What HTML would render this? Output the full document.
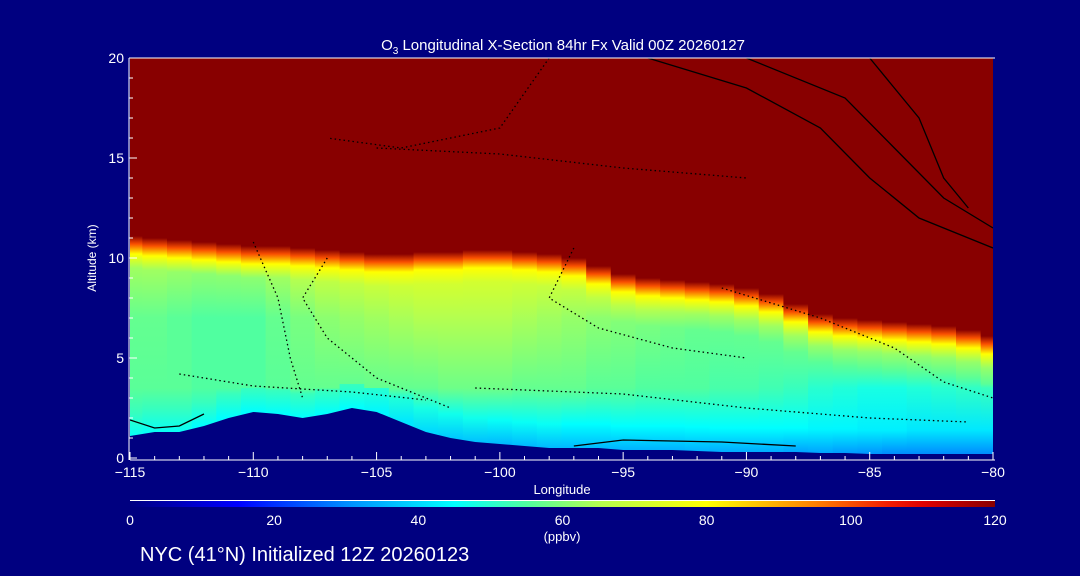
<!DOCTYPE html>
<html><head><meta charset="utf-8"><style>
html,body{margin:0;padding:0;background:#000080;}
svg{display:block;font-family:"Liberation Sans",sans-serif;}
</style></head><body>
<svg id="c" width="1080" height="576" viewBox="0 0 1080 576">
<defs id="defs"><clipPath id="clip"><rect x="130" y="58" width="863" height="400"/></clipPath></defs>
<rect x="0" y="0" width="1080" height="576" fill="#000080"/>
<g id="plot" clip-path="url(#clip)"></g>
<g id="axes"></g>
<text x="563" y="50" fill="#fff" font-size="15" text-anchor="middle">O<tspan font-size="10" dy="4">3</tspan><tspan dy="-4"> Longitudinal X-Section 84hr  Fx Valid 00Z 20260127</tspan></text>
<text x="96" y="258" fill="#fff" font-size="12" text-anchor="middle" transform="rotate(-90 96 258)">Altitude (km)</text>
<text x="562" y="494" fill="#fff" font-size="13" text-anchor="middle">Longitude</text>
<text x="562" y="541" fill="#fff" font-size="13" text-anchor="middle">(ppbv)</text>
<text x="140" y="561" fill="#fff" font-size="20">NYC (41°N) Initialized 12Z 20260123</text>
</svg>
<script>
const lons=[-115,-114,-113,-112,-111,-110,-109,-108,-107,-106,-105,-104,-103,-102,-101,-100,-99,-98,-97,-96,-95,-94,-93,-92,-91,-90,-89,-88,-87,-86,-85,-84,-83,-82,-81,-80];
const terrain=[1.1,1.3,1.3,1.6,2.0,2.3,2.2,2.0,2.2,2.5,2.3,1.8,1.3,1.0,0.8,0.7,0.6,0.5,0.5,0.5,0.4,0.4,0.4,0.35,0.3,0.3,0.3,0.3,0.25,0.25,0.2,0.2,0.2,0.2,0.2,0.2];
const tropo=[11.1,11.0,10.9,10.8,10.7,10.6,10.6,10.5,10.4,10.3,10.2,10.2,10.3,10.3,10.4,10.4,10.3,10.2,10.0,9.6,9.2,9.0,8.9,8.8,8.7,8.5,8.2,7.7,7.2,7.0,6.9,6.8,6.7,6.6,6.4,6.1];
const sfcVal=[46,46,46,45,45,45,45,45,45,45,44,42,40,38,37,36,36,36,36,36,35,35,35,35,34,34,34,33,33,32,31,30,30,30,30,30];
const blVal=[52,52,52,52,52,52,52,52,52,52,50,49,48,47,47,46,46,46,45,45,45,45,45,45,45,45,45,45,44,44,43,43,42,42,42,42];
const midVal=[56,56,56,55,55,55,56,57,57,57,57,57,57,58,58,58,57,57,57,56,56,55,55,55,54,54,53,52,50,49,48,48,49,50,51,52];
const upperVal=[57,57,56,55,55,55,57,59,61,62,63,64,65,65,65,65,64,63,62,61,60,59,58,57,57,57,57,57,56,56,56,56,56,56,56,56];
const xTicks=[-115,-110,-105,-100,-95,-90,-85,-80];
const yTicks=[0,5,10,15,20];
const cbTicks=[0,20,40,60,80,100,120];
const contourSolid=[[[-94,20],[-90,18.5],[-87,16.5],[-85,14],[-83,12],[-80,10.5]],[[-90,20],[-86,18],[-84,15.5],[-82,13],[-80,11.5]],[[-85,20],[-83,17],[-82,14],[-81,12.5]],[[-115,1.9],[-114,1.5],[-113,1.6],[-112,2.2]],[[-97,0.6],[-95,0.9],[-91,0.8],[-88,0.6]]];
const contourDotted=[[[-110,10.8],[-109,8],[-108.5,5],[-108,3]],[[-107,10],[-108,8],[-107,6],[-105,4],[-102,2.5]],[[-97,10.5],[-98,8],[-96,6.5],[-93,5.5],[-90,5]],[[-105,15.5],[-100,15.2],[-95,14.5],[-90,14]],[[-98,20],[-100,16.5],[-104,15.5],[-107,16]],[[-113,4.2],[-110,3.6],[-106,3.3],[-103,2.9]],[[-91,8.5],[-87,7],[-84,5.5],[-82,3.8],[-80,3]],[[-101,3.5],[-95,3.2],[-90,2.5],[-85,2],[-81,1.8]]];

const X0=130,X1=993,Y0=458,Y1=58;
const xs=v=>X0+(v+115)/35*(X1-X0);
const ys=v=>Y0-v/20*(Y0-Y1);
const cmap=[[0,[0,0,128]],[15,[0,0,255]],[30,[0,140,255]],[45,[0,255,255]],[55,[80,255,160]],[65,[180,255,80]],[80,[255,255,0]],[95,[255,128,0]],[108,[240,0,0]],[120,[136,0,0]]];
function col(v){v=Math.max(0,Math.min(120,v));for(let i=1;i<cmap.length;i++){if(v<=cmap[i][0]){const a=cmap[i-1],b=cmap[i],t=(v-a[0])/(b[0]-a[0]);const c=a[1].map((q,k)=>Math.round(q+(b[1][k]-q)*t));return `rgb(${c})`;}}return 'rgb(136,0,0)';}
const NS='http://www.w3.org/2000/svg';
const mk=(t,a,p)=>{const e=document.createElementNS(NS,t);for(const k in a)e.setAttribute(k,a[k]);p.appendChild(e);return e;};
const defs=document.getElementById('defs'),plot=document.getElementById('plot'),axes=document.getElementById('axes'),svg=document.getElementById('c');
mk('rect',{x:X0,y:Y1,width:X1-X0,height:Y0-Y1,fill:'#880000'},plot);
lons.forEach((ln,i)=>{
  const g=mk('linearGradient',{id:'g'+i,gradientUnits:'userSpaceOnUse',x1:0,x2:0,y1:ys(0),y2:ys(20)},defs);
  const tp=tropo[i],tr=terrain[i];
  const up=Math.min(7,tp-2.4);
  const st=[[0,sfcVal[i]],[tr,sfcVal[i]],[tr+1.2,blVal[i]],[3.5,midVal[i]],[up,upperVal[i]],[tp-1.6,upperVal[i]+6],[tp-0.9,80],[tp-0.4,100],[tp,120],[20,120]];
  let last=0;
  st.forEach(s=>{const h=Math.max(last,s[0]);last=h;mk('stop',{offset:(h/20).toFixed(4),'stop-color':col(s[1])},g);});
  const r=mk('rect',{x:xs(ln-0.5),y:Y1,width:xs(ln+0.5)-xs(ln-0.5)+0.5,height:Y0-Y1,fill:'url(#g'+i+')'},plot);
  
  
});
let tp='M'+xs(-115.5)+','+ys(0);
lons.forEach((ln,i)=>{tp+=' L'+xs(ln)+','+ys(terrain[i]);});
tp+=' L'+xs(-79.5)+','+ys(terrain[terrain.length-1])+' L'+xs(-79.5)+','+ys(0)+'Z';
const terr=mk('path',{d:tp,fill:'#000080'},plot);


const line=pts=>pts.map((p,k)=>(k?'L':'M')+xs(p[0])+','+ys(p[1])).join(' ');
contourSolid.forEach(c=>{const e=mk('path',{d:line(c),fill:'none',stroke:'#000','stroke-width':1.3},plot);
  
  });
contourDotted.forEach(c=>{const e=mk('path',{d:line(c),fill:'none',stroke:'#000','stroke-width':1.3,'stroke-dasharray':'1.5 3'},plot);
  
  });
mk('line',{x1:X0,y1:Y0+2,x2:X1+2,y2:Y0+2,stroke:'#fff'},axes);
mk('line',{x1:X0,y1:Y1,x2:X1+2,y2:Y1,stroke:'#fff'},axes);
mk('line',{x1:X0-1,y1:Y1,x2:X0-1,y2:Y0+2,stroke:'#fff'},axes);
for(let v=-115;v<=-80;v++){const maj=v%5===0;mk('line',{x1:xs(v),x2:xs(v),y1:Y0+2,y2:Y0+2-(maj?8:4),stroke:'#fff'},axes);}
xTicks.forEach(v=>{const t=mk('text',{x:xs(v),y:Y0+19,fill:'#fff','font-size':14,'text-anchor':'middle'},axes);t.textContent='\u2212'+Math.abs(v);
  
  });
for(let v=0;v<=20;v++){const maj=v%5===0;mk('line',{x1:X0-1,x2:X0-1+(maj?8:4),y1:ys(v),y2:ys(v),stroke:'#fff'},axes);}
yTicks.forEach(v=>{const t=mk('text',{x:X0-6,y:ys(v)+5,fill:'#fff','font-size':14,'text-anchor':'end'},axes);t.textContent=v;
  
  });
const cg=mk('linearGradient',{id:'cbg',x1:0,x2:1,y1:0,y2:0},defs);
for(let v=0;v<=120;v+=5)mk('stop',{offset:v/120,'stop-color':col(v)},cg);
mk('line',{x1:X0,x2:995,y1:500.5,y2:500.5,stroke:'#fff'},axes);
const cb=mk('rect',{x:X0,y:501,width:995-X0,height:6,fill:'url(#cbg)'},svg);


cbTicks.forEach(v=>{const t=mk('text',{x:X0+v/120*(995-X0),y:525,fill:'#fff','font-size':14,'text-anchor':'middle'},svg);t.textContent=v;
  
  });
</script>
</body></html>
